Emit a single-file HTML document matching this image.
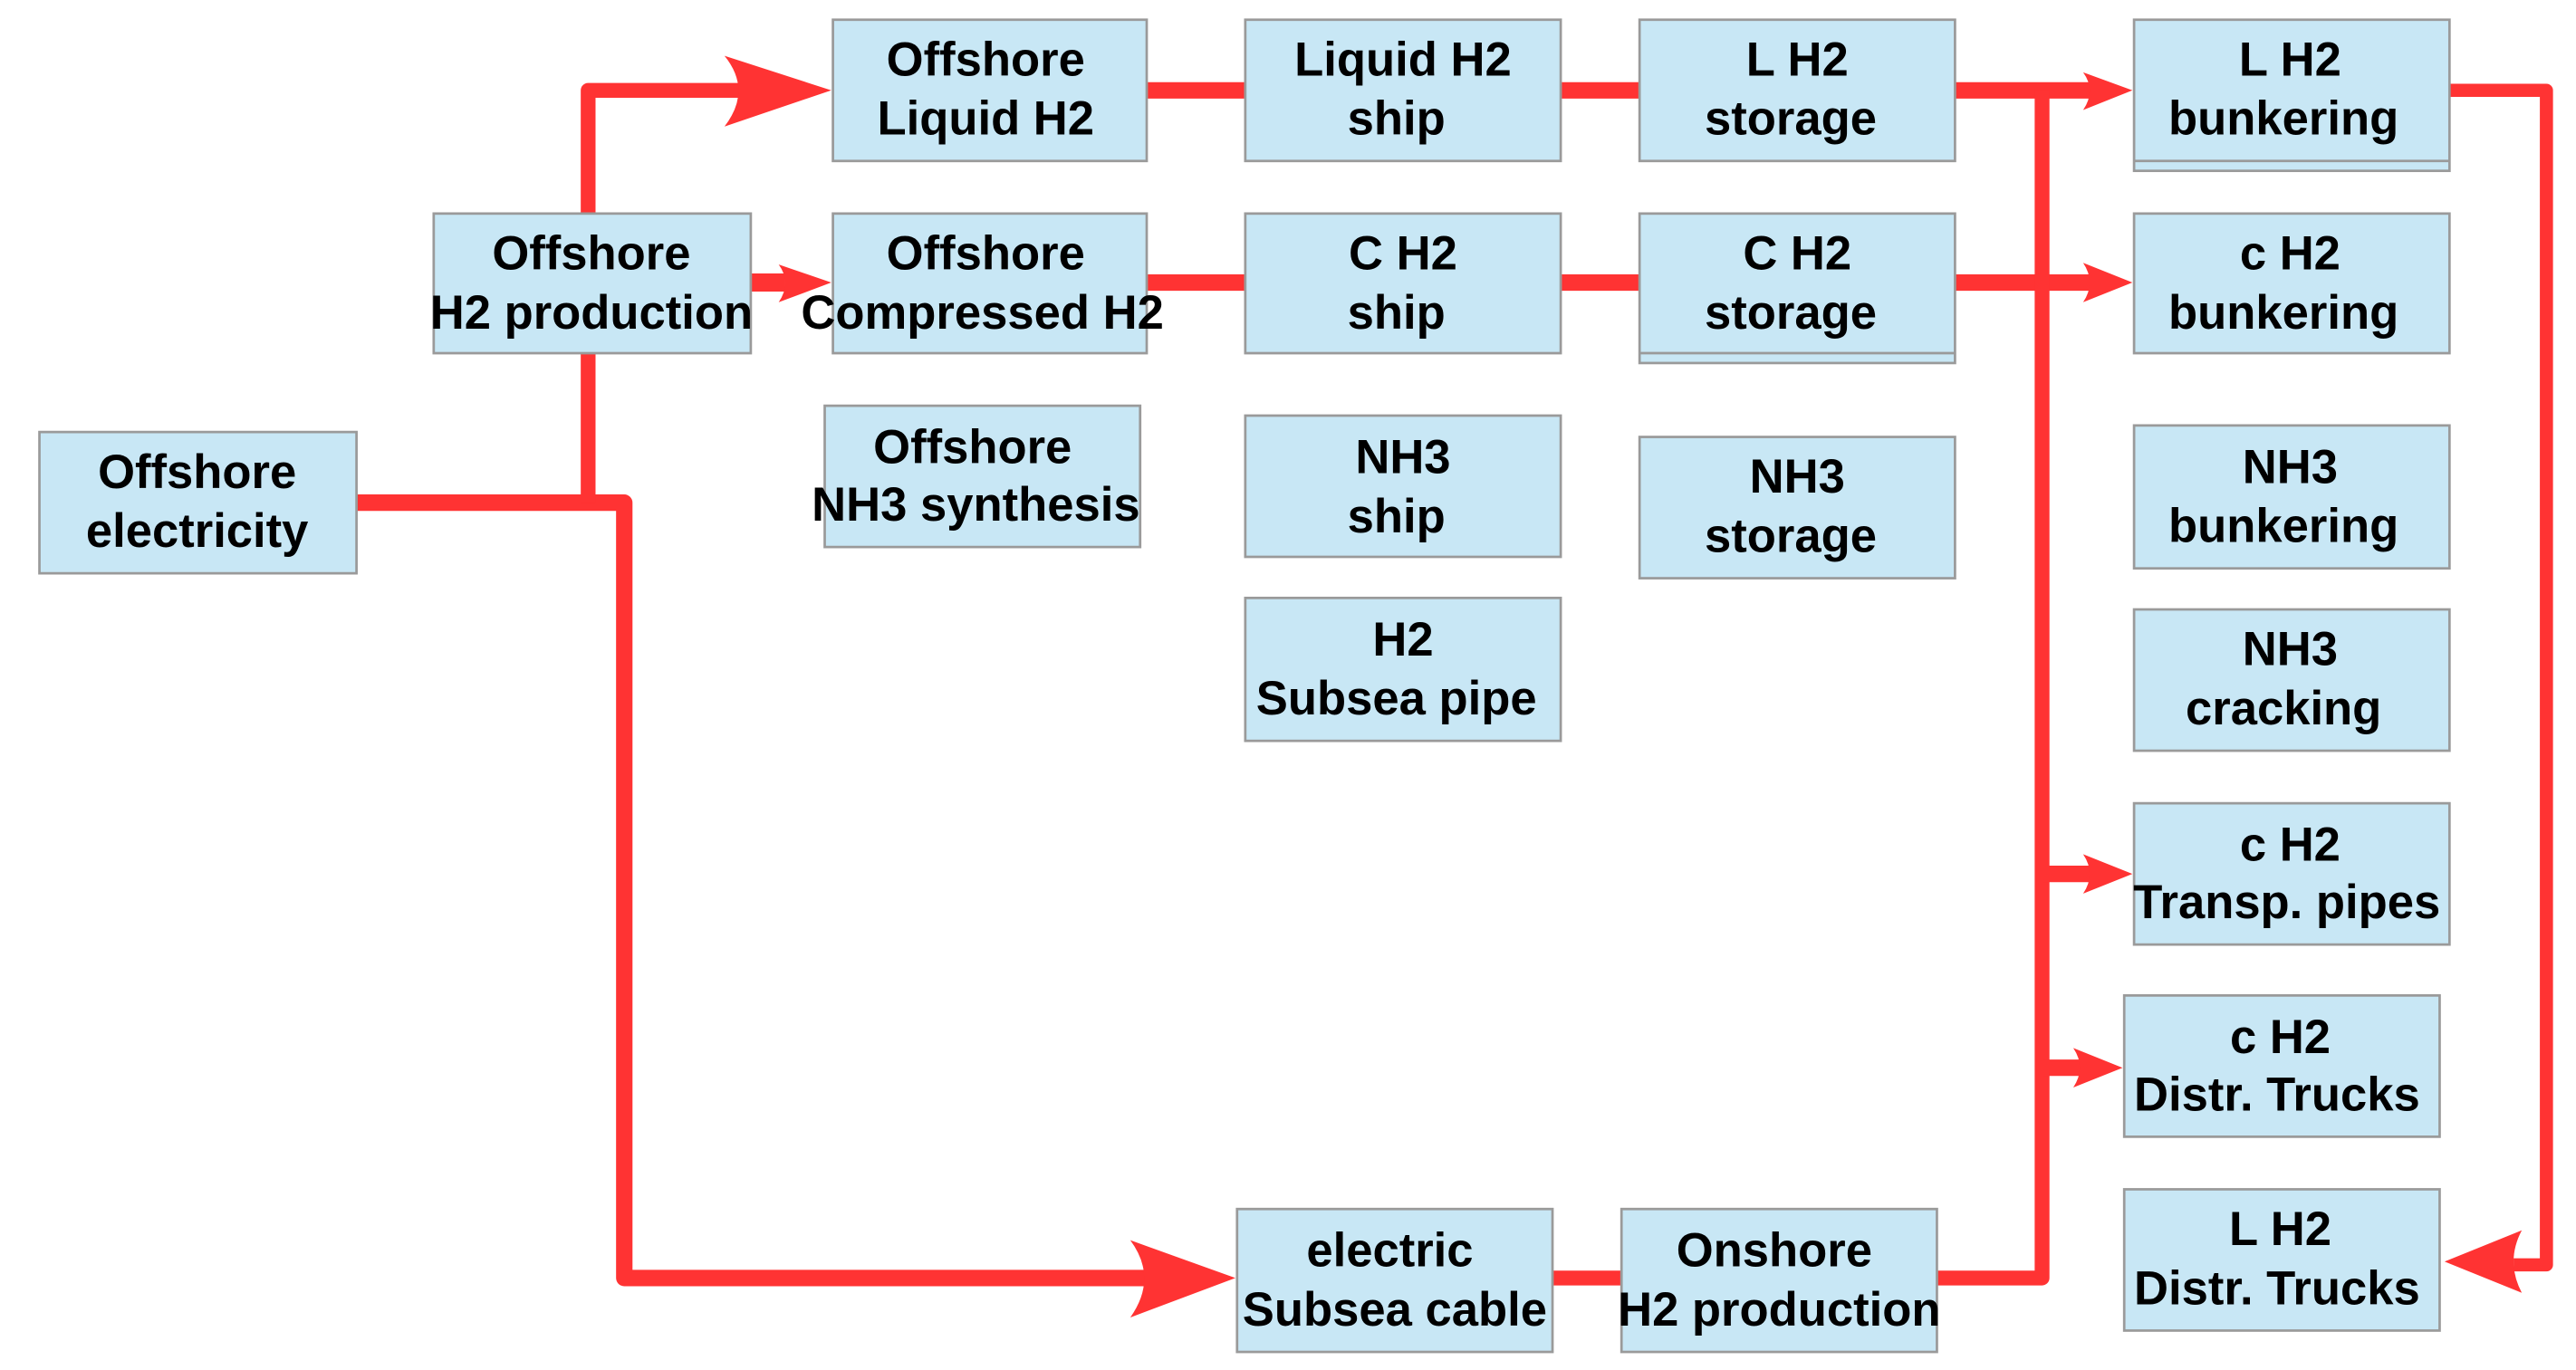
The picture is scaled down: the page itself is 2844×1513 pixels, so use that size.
<!DOCTYPE html>
<html><head><meta charset="utf-8"><style>
html,body{margin:0;padding:0;background:#fff;}
svg{display:block;}
text{font-family:"Liberation Sans",Arial,sans-serif;font-weight:bold;font-size:29px;fill:#000;text-anchor:middle;}
</style></head><body>
<svg width="2844" height="1513" viewBox="0 0 1568 834" preserveAspectRatio="none" xmlns="http://www.w3.org/2000/svg">
<g stroke="#ff3333" fill="none" stroke-linejoin="round">
<path d="M217 306 H380 V778 H700" stroke-width="10"/>
<path d="M358 306 V55 H450" stroke-width="9"/>
<path d="M457 172 H478" stroke-width="11"/>
<path d="M698 55 H758 M950 55 H998 M1190 55 H1275" stroke-width="10"/>
<path d="M698 172 H758 M950 172 H998 M1190 172 H1275" stroke-width="10"/>
<path d="M945 778 H987 M1179 778 H1243 V55" stroke-width="9"/>
<path d="M1243 532 H1275 M1243 650 H1270" stroke-width="10"/>
<path d="M1491 55 H1550 V770 H1530" stroke-width="8"/>
</g>
<g fill="#ff3333">
<path d="M506 55 L441 34 Q458 55 441 77 Z"/>
<path d="M752 778 L688 755 Q705 778 688 802 Z"/>
<path d="M506 172 L474 161 Q482 172 474 184 Z"/>
<path d="M1298 55 L1268 44 Q1276 55 1268 67 Z"/>
<path d="M1298 172 L1268 160 Q1276 172 1268 184 Z"/>
<path d="M1298 532 L1268 520 Q1276 532 1268 544 Z"/>
<path d="M1292 650 L1262 638 Q1270 650 1262 662 Z"/>
<path d="M1488 768 L1535 749 Q1525 768 1535 787 Z"/>
</g>
<g fill="#c8e7f5" stroke="#9a9a9a" stroke-width="1.5">
<rect x="24" y="263" width="193" height="86"/>
<rect x="264" y="130" width="193" height="85"/>
<rect x="507" y="12" width="191" height="86"/>
<rect x="507" y="130" width="191" height="85"/>
<rect x="502" y="247" width="192" height="86"/>
<rect x="758" y="12" width="192" height="86"/>
<rect x="758" y="130" width="192" height="85"/>
<rect x="758" y="253" width="192" height="86"/>
<rect x="758" y="364" width="192" height="87"/>
<rect x="998" y="12" width="192" height="86"/>
<rect x="998" y="130" width="192" height="91"/>
<rect x="998" y="266" width="192" height="86"/>
<rect x="1299" y="12" width="192" height="92"/>
<rect x="1299" y="130" width="192" height="85"/>
<rect x="1299" y="259" width="192" height="87"/>
<rect x="1299" y="371" width="192" height="86"/>
<rect x="1299" y="489" width="192" height="86"/>
<rect x="1293" y="606" width="192" height="86"/>
<rect x="1293" y="724" width="192" height="86"/>
<rect x="753" y="736" width="192" height="87"/>
<rect x="987" y="736" width="192" height="87"/>
</g>
<g stroke="#9a9a9a" stroke-width="1.5">
<line x1="998" y1="215" x2="1190" y2="215"/>
<line x1="1299" y1="98" x2="1491" y2="98"/>
</g>
<g>
<text x="120" y="297">Offshore</text><text x="120" y="333">electricity</text>
<text x="360" y="164">Offshore</text><text x="360" y="200">H2 production</text>
<text x="600" y="46">Offshore</text><text x="600" y="82">Liquid H2</text>
<text x="600" y="164">Offshore</text><text x="598" y="200">Compressed H2</text>
<text x="592" y="282">Offshore</text><text x="594" y="317">NH3 synthesis</text>
<text x="854" y="46">Liquid H2</text><text x="850" y="82">ship</text>
<text x="854" y="164">C H2</text><text x="850" y="200">ship</text>
<text x="854" y="288">NH3</text><text x="850" y="324">ship</text>
<text x="854" y="399">H2</text><text x="850" y="435">Subsea pipe</text>
<text x="1094" y="46">L H2</text><text x="1090" y="82">storage</text>
<text x="1094" y="164">C H2</text><text x="1090" y="200">storage</text>
<text x="1094" y="300">NH3</text><text x="1090" y="336">storage</text>
<text x="1394" y="46">L H2</text><text x="1390" y="82">bunkering</text>
<text x="1394" y="164">c H2</text><text x="1390" y="200">bunkering</text>
<text x="1394" y="294">NH3</text><text x="1390" y="330">bunkering</text>
<text x="1394" y="405">NH3</text><text x="1390" y="441">cracking</text>
<text x="1394" y="524">c H2</text><text x="1392" y="559">Transp. pipes</text>
<text x="1388" y="641">c H2</text><text x="1386" y="676">Distr. Trucks</text>
<text x="1388" y="758">L H2</text><text x="1386" y="794">Distr. Trucks</text>
<text x="846" y="771">electric</text><text x="849" y="807">Subsea cable</text>
<text x="1080" y="771">Onshore</text><text x="1083" y="807">H2 production</text>
</g>
</svg>
</body></html>
